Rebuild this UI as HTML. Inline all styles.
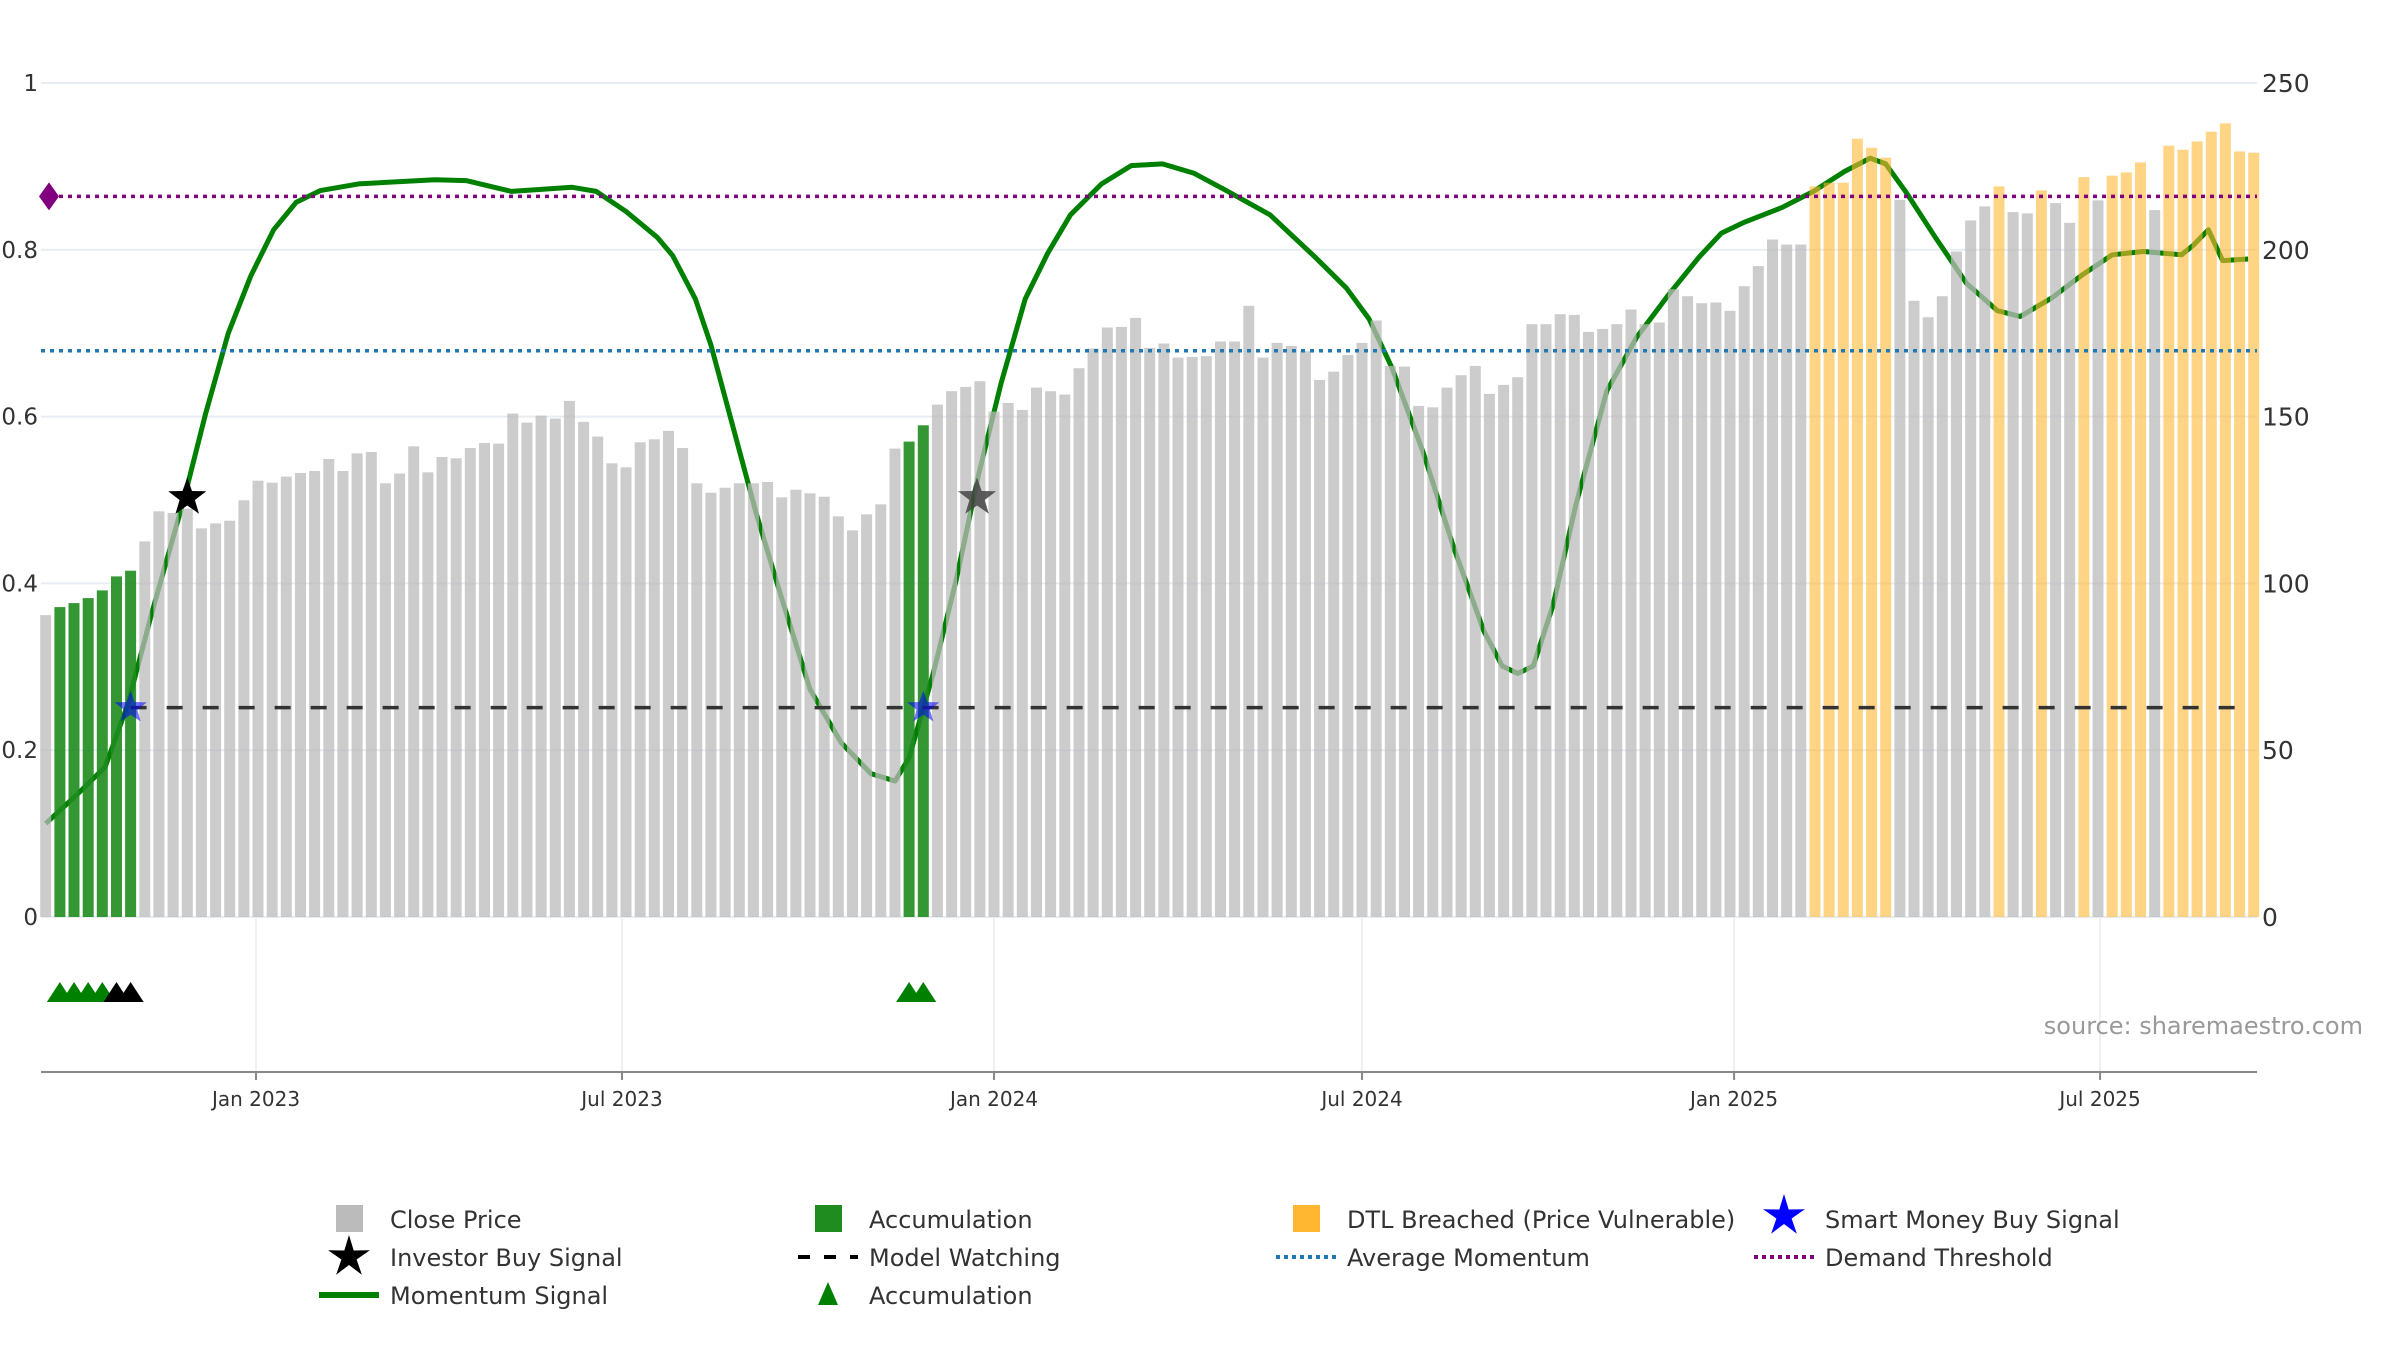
<!DOCTYPE html>
<html><head><meta charset="utf-8"><style>
html,body{margin:0;padding:0;background:#fff;}
body{width:2400px;height:1350px;overflow:hidden;position:relative;font-family:"DejaVu Sans","Liberation Sans",sans-serif;}
svg{position:absolute;left:0;top:0;}
</style></head><body>
<svg id="chart" width="2400" height="1350"></svg>
<script>
// ---- data ----
const startDate = "2022-09-19"; // first weekly bar
const prices = [90.5,92.9,94.1,95.6,97.9,102.1,103.8,112.6,121.6,121.1,122.4,116.5,118,118.8,124.9,130.8,130.2,132,133.1,133.7,137.3,133.7,139,139.4,130,132.9,141.1,133.3,137.9,137.5,140.6,142.1,141.9,150.9,148.2,150.3,149.4,154.7,148.4,144,136,134.8,142.3,143.2,145.7,140.6,130,127.2,128.7,130,130,130.4,125.8,128.1,127,126,120.1,115.9,120.7,123.7,140.4,142.5,147.4,153.6,157.6,158.9,160.6,151.5,154.1,152,158.7,157.6,156.6,164.5,170.4,176.7,176.9,179.6,170.6,171.9,167.7,167.9,168.1,172.5,172.5,183.2,167.7,172.1,171.2,169.6,161,163.5,168.5,172.1,178.8,165.2,165,153.2,152.8,158.7,162.4,165.2,156.8,159.5,161.8,177.7,177.7,180.7,180.5,175.4,176.3,177.7,182.1,177.7,178.2,188.2,186.1,184,184.2,181.7,189.1,195.1,203.1,201.6,201.6,219,220.1,220.1,233.3,230.6,227.6,215,184.7,179.8,186.1,199.5,208.8,213,219,211.3,210.9,217.8,214,208.1,221.8,214.8,222.2,223.2,226.2,211.9,231.2,230,232.5,235.4,237.9,229.5,229.1];
const accumWeeks = [1,2,3,4,5,6,61,62];
const dtlWeeks = [125,126,127,128,129,130,138,141,144,146,147,148,150,151,152,153,154,155,156];
const momWeeks = [0,2.1,4.2,5.8,7.5,9.8,11.3,12.9,14.5,16.1,17.7,19.4,22.1,27.5,29.7,32.9,37.2,38.9,41,43.2,44.3,45.9,47,48.6,50.2,51.8,54,56.2,58.3,60,61,62.7,64.3,65.9,67.5,69.2,70.8,72.4,74.6,76.7,78.9,81.1,83.2,86.5,89.7,91.9,93.5,95.1,97.3,99.5,101.6,102.9,104,105.1,106.5,108.1,110.3,112.4,114.6,116.8,118.4,120,122.7,124.9,127.1,128.9,130,131.4,133.5,135.7,137.9,139.5,141.7,143.8,146,148.2,150.9,151.7,152.8,153.8,155.6];
const momValues = [0.112,0.145,0.18,0.255,0.365,0.503,0.604,0.70,0.769,0.824,0.857,0.871,0.879,0.884,0.883,0.87,0.875,0.87,0.846,0.815,0.793,0.741,0.686,0.585,0.484,0.393,0.273,0.209,0.172,0.163,0.191,0.292,0.402,0.53,0.64,0.741,0.796,0.842,0.879,0.901,0.903,0.892,0.873,0.842,0.791,0.754,0.717,0.659,0.558,0.442,0.343,0.301,0.292,0.301,0.374,0.494,0.631,0.695,0.745,0.791,0.82,0.833,0.851,0.87,0.894,0.91,0.903,0.87,0.815,0.76,0.727,0.72,0.742,0.769,0.794,0.798,0.794,0.805,0.824,0.787,0.789];
const demandThreshold = 0.864;
const avgMomentum = 0.679;
const modelWatching = 0.251;
const investorStarWeeks = [10, 65.8];
const investorStarValues = [0.503, 0.503];
const smartStarWeeks = [6, 62];
const smartStarValues = [0.251, 0.251];
const triGreenWeeks = [1,2,3,4,61,62];
const triBlackWeeks = [5,6];
const leftTicks = [0,0.2,0.4,0.6,0.8,1];
const leftTickLabels = ["0","0.2","0.4","0.6","0.8","1"];
const rightTicks = [0,50,100,150,200,250];
const dateTicks = ["2023-01-01","2023-07-01","2024-01-01","2024-07-01","2025-01-01","2025-07-01"];
const dateTickLabels = ["Jan 2023","Jul 2023","Jan 2024","Jul 2024","Jan 2025","Jul 2025"];

// ---- scales ----
const X0 = 41, X1 = 2257, Y0 = 917, Y1 = 83;
const DAY = 86400000, refT = Date.parse("2023-01-01"), pxDay = 2.022, refX = 256;
function xDate(s){ return refX + (Date.parse(s)-refT)/DAY*pxDay; }
function xWeek(i){ return refX + ((Date.parse(startDate)-refT)/DAY + 7*i)*pxDay; }
function yL(v){ return Y0 - v*(Y0-Y1); }
function yR(p){ return Y0 - p/250*(Y0-Y1); }

const svg = document.getElementById('chart');
const NS = "http://www.w3.org/2000/svg";
function mk(tag, attrs, parent){ const e=document.createElementNS(NS,tag); for(const k in attrs) e.setAttribute(k,attrs[k]); (parent||svg).appendChild(e); return e; }
function starPts(cx,cy,R,r){ let p=[]; for(let k=0;k<10;k++){const a=-Math.PI/2+k*Math.PI/5; const rr=k%2?r:R; p.push((cx+rr*Math.cos(a)).toFixed(1)+","+(cy+rr*Math.sin(a)).toFixed(1));} return p.join(" "); }

// gridlines
leftTicks.forEach((t,i)=>{
  const g = mk('line',{x1:X0,x2:X1,y1:yL(t),y2:yL(t),stroke:'#e8ecf3','stroke-width':2});
  
  
  const l = mk('text',{x:38,y:yL(t)+8,'text-anchor':'end','font-size':23,fill:'#333'});
  l.textContent = leftTickLabels[i];
  
  
});
rightTicks.forEach(t=>{
  const l = mk('text',{x:2262,y:yR(t)+9,'font-size':25,fill:'#333'});
  l.textContent = String(t);
  
  
});
dateTicks.forEach((d,i)=>{
  const x = xDate(d);
  const g = mk('line',{x1:x,x2:x,y1:Y0,y2:1072,stroke:'#eef0f5','stroke-width':2});
  
  
  const tk = mk('line',{x1:x,x2:x,y1:1072,y2:1080,stroke:'#888','stroke-width':2});
  
  
  const l = mk('text',{x:x,y:1106,'text-anchor':'middle','font-size':20,fill:'#333'});
  l.textContent = dateTickLabels[i];
  
  
});
const ax = mk('line',{x1:X0,x2:X1,y1:1072,y2:1072,stroke:'#888','stroke-width':2});



// momentum line (under bars)
let d = momWeeks.map((w,i)=>(i?'L':'M')+xWeek(w).toFixed(1)+','+yL(momValues[i]).toFixed(1)).join(' ');
const ml = mk('path',{d:d,fill:'none',stroke:'#008000','stroke-width':5,'stroke-linejoin':'round'});



// bars
prices.forEach((p,i)=>{
  let fill='#bbbbbb', op=0.75, name='close-price-bar';
  if(accumWeeks.includes(i)){fill='#1e8c1e'; op=0.9; name='accumulation-bar';}
  else if(dtlWeeks.includes(i)){fill='#ffb732'; op=0.6; name='dtl-breached-bar';}
  const x = xWeek(i);
  const b = mk('rect',{x:(x-5.5).toFixed(1),y:yR(p).toFixed(1),width:11,height:(Y0-yR(p)).toFixed(1),fill:fill,'fill-opacity':op});
  
  
});

// reference lines
const dl = mk('line',{x1:X0,x2:X1,y1:yL(demandThreshold),y2:yL(demandThreshold),stroke:'#800080','stroke-width':3.5,'stroke-dasharray':'4 5'});


const dm = mk('polygon',{points:`${X0-2},${yL(demandThreshold)} ${X0+8},${yL(demandThreshold)-14} ${X0+18},${yL(demandThreshold)} ${X0+8},${yL(demandThreshold)+14}`,fill:'#800080'});


const al = mk('line',{x1:X0,x2:X1,y1:yL(avgMomentum),y2:yL(avgMomentum),stroke:'#1f77b4','stroke-width':3.5,'stroke-dasharray':'4 5'});


const wl = mk('line',{x1:xWeek(6),x2:xWeek(155.5),y1:yL(modelWatching),y2:yL(modelWatching),stroke:'#333','stroke-width':3.5,'stroke-dasharray':'16 20'});



// stars
smartStarWeeks.forEach((w,i)=>{
  const s = mk('polygon',{points:starPts(xWeek(w),yL(smartStarValues[i]),17,7),fill:'#0000ff','fill-opacity':0.55});
  
  
});
investorStarWeeks.forEach((w,i)=>{
  const s = mk('polygon',{points:starPts(xWeek(w),yL(investorStarValues[i]),20,8),fill:i?'#444':'#000','fill-opacity':i?0.85:1});
  
  
});

// triangles
function tri(w,color){
  const x=xWeek(w), y=992;
  const t = mk('polygon',{points:`${x-13},${y+10} ${x},${y-10} ${x+13},${y+10}`,fill:color});
  
  
}
triGreenWeeks.forEach(w=>tri(w,'#008000'));
triBlackWeeks.forEach(w=>tri(w,'#000'));

const src = mk('text',{x:2363,y:1034,'text-anchor':'end','font-size':24,fill:'#999'});
src.textContent='source: sharemaestro.com';



// legend
const legend = [
  [349,1219,'sq','#bbbbbb','Close Price','legend-close-price'],
  [828,1219,'sq','#1e8c1e','Accumulation','legend-accumulation-bar'],
  [1306,1219,'sq','#ffb732','DTL Breached (Price Vulnerable)','legend-dtl-breached'],
  [1784,1219,'bstar','#0000ff','Smart Money Buy Signal','legend-smart-money'],
  [349,1257,'kstar','#000','Investor Buy Signal','legend-investor-buy'],
  [828,1257,'dash','#000','Model Watching','legend-model-watching'],
  [1306,1257,'dot','#1f77b4','Average Momentum','legend-average-momentum'],
  [1784,1257,'dot','#800080','Demand Threshold','legend-demand-threshold'],
  [349,1295,'line','#008000','Momentum Signal','legend-momentum-signal'],
  [828,1295,'tri','#008000','Accumulation','legend-accumulation-triangle']
];
legend.forEach(([x,y,type,c,label,name])=>{
  const g = mk('g',{});
  
  
  if(type==='sq') mk('rect',{x:x-13,y:y-14,width:27,height:27,fill:c},g);
  else if(type==='bstar') mk('polygon',{points:starPts(x,y-3,22,8),fill:c},g);
  else if(type==='kstar') mk('polygon',{points:starPts(x,y,22,8),fill:c},g);
  else if(type==='dash') mk('line',{x1:x-30,x2:x+30,y1:y,y2:y,stroke:c,'stroke-width':4,'stroke-dasharray':'12 14'},g);
  else if(type==='dot') mk('line',{x1:x-30,x2:x+30,y1:y,y2:y,stroke:c,'stroke-width':4,'stroke-dasharray':'4 4'},g);
  else if(type==='line') mk('line',{x1:x-30,x2:x+30,y1:y,y2:y,stroke:c,'stroke-width':6},g);
  else if(type==='tri') mk('polygon',{points:`${x-10},${y+10} ${x},${y-13} ${x+10},${y+10}`,fill:c},g);
  const t = mk('text',{x:x+41,y:y+9,'font-size':24,fill:'#333'},g);
  t.textContent = label;
});
</script>
</body></html>
